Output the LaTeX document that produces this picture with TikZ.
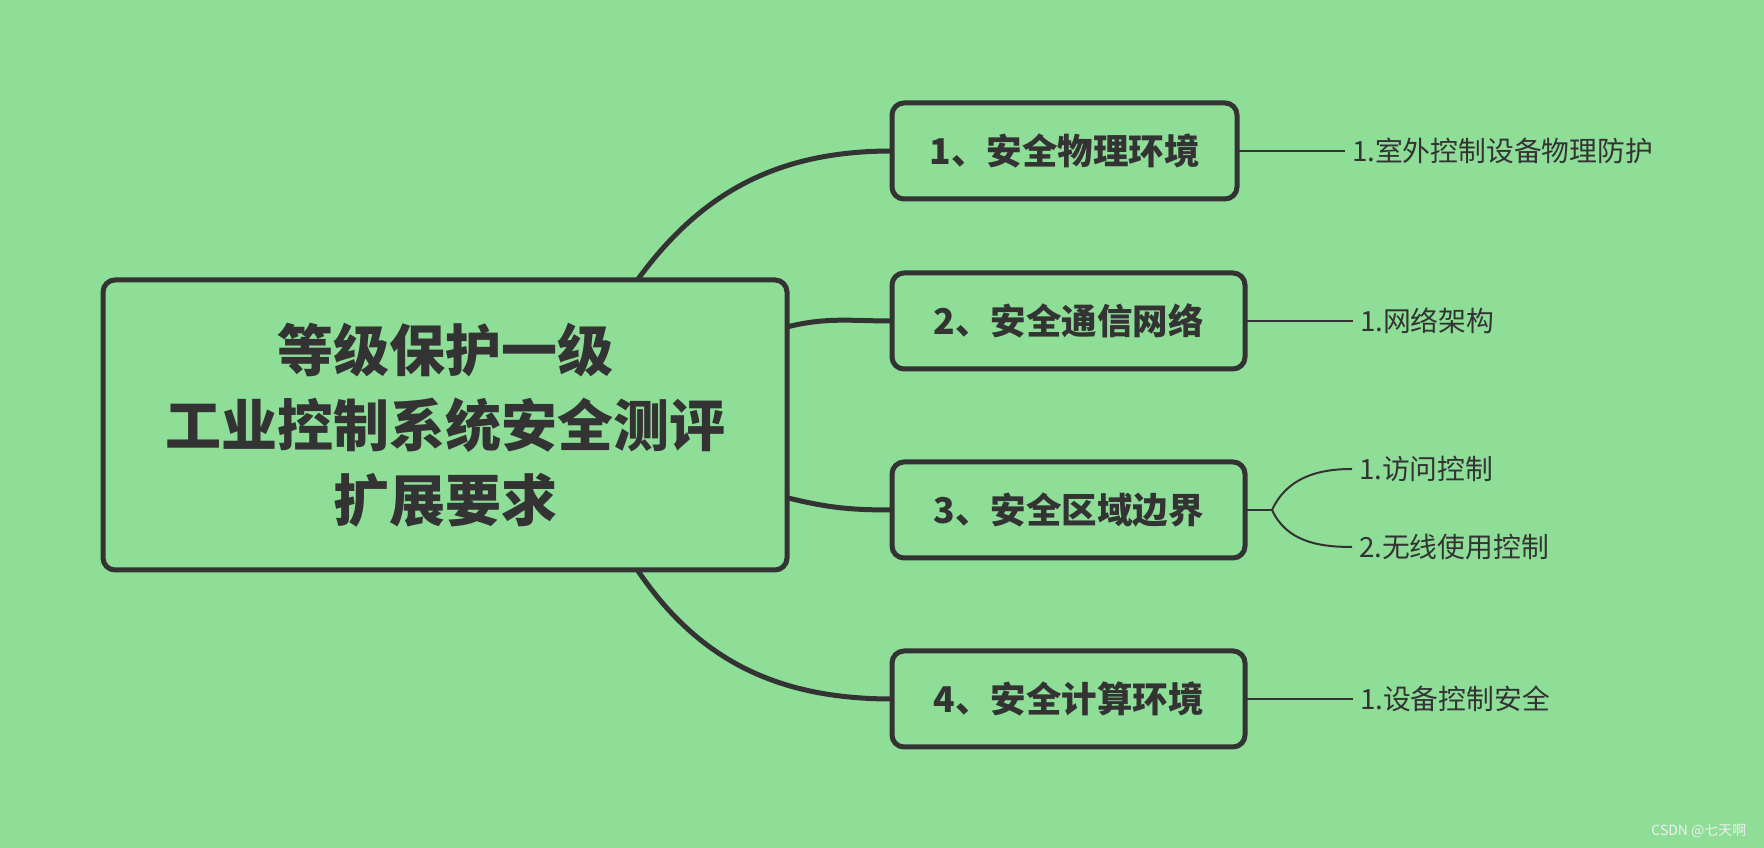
\documentclass[tikz,border=0pt]{standalone}
\usepackage{fontspec}
\setmainfont{Noto Sans CJK SC}
\usetikzlibrary{positioning}
\definecolor{mapgreen}{RGB}{142,222,152}
\definecolor{ink}{RGB}{51,51,51}

\begin{document}
\begin{tikzpicture}
    [
        x=1pt, y=1pt,
        root/.style = {
            rectangle, rounded corners=12pt, draw=ink, line width=5pt,
            fill=mapgreen, text=ink, align=center, outer sep=0pt,
            minimum width=684pt, minimum height=290pt,
            font=\fontsize{56}{75}\selectfont\bfseries
            },
        topic/.style = {
            rectangle, rounded corners=12pt, draw=ink, line width=5pt,
            fill=mapgreen, text=ink, outer sep=0pt, anchor=west,
            minimum width=353pt, minimum height=96pt,
            font=\fontsize{35.5}{42}\selectfont\bfseries
            },
        subtopic/.style = {
            text=ink, inner xsep=7pt, inner ysep=0pt, outer sep=0pt,
            font=\fontsize{27.8}{32}\selectfont
            },
        branch/.style = {
            draw=ink, line width=5pt
            },
        twig/.style = {
            draw=ink, line width=2pt
            },
    ]
    \fill[mapgreen] (0,0) rectangle (1764,848);
    \useasboundingbox (0,0) rectangle (1764,848);

    % centre and main topics
    \node[root] (root) at (445,423) {等级保护一级\\工业控制系统安全测评\\扩展要求};
    \node[topic, minimum width=345pt] (phys) at (892,697) {1、安全物理环境};
    \node[topic] (comm) at (892,527) {2、安全通信网络};
    \node[topic] (edge) at (892,338) {3、安全区域边界};
    \node[topic] (comp) at (892,149) {4、安全计算环境};

    \draw[branch] (root.37) to[out=54, in=180] (phys.west);
    \draw[branch] (root.16) to[out=14, in=180] (comm.west);
    \draw[branch] (root.-12) to[out=-14, in=180] (edge.west);
    \draw[branch] (root.-37) to[out=-56, in=180] (comp.west);

    % sub topics
    \node[subtopic, right=108pt of phys] (outdoor) {1.室外控制设备物理防护};
    \node[subtopic, right=108pt of comm] (netarch) {1.网络架构};
    \node[subtopic, right=107pt of edge, yshift=41pt] (access) {1.访问控制};
    \node[subtopic, right=107pt of edge, yshift=-37pt] (wireless) {2.无线使用控制};
    \node[subtopic, right=108pt of comp] (devsafe) {1.设备控制安全};
    \coordinate[right=27pt of edge] (fork);

    \draw[twig] (phys) -- (outdoor);
    \draw[twig] (comm) -- (netarch);
    \draw[twig] (comp) -- (devsafe);
    \draw[twig] (edge) -- (fork);
    \draw[twig] (fork) to[out=65, in=180] (access.west);
    \draw[twig] (fork) to[out=-65, in=180] (wireless.west);

    \node[anchor=east, text=white!88!gray, font=\fontsize{14}{16}\selectfont]
        (mark) at (1750,17) {CSDN @七天啊};
\end{tikzpicture}
\end{document}
